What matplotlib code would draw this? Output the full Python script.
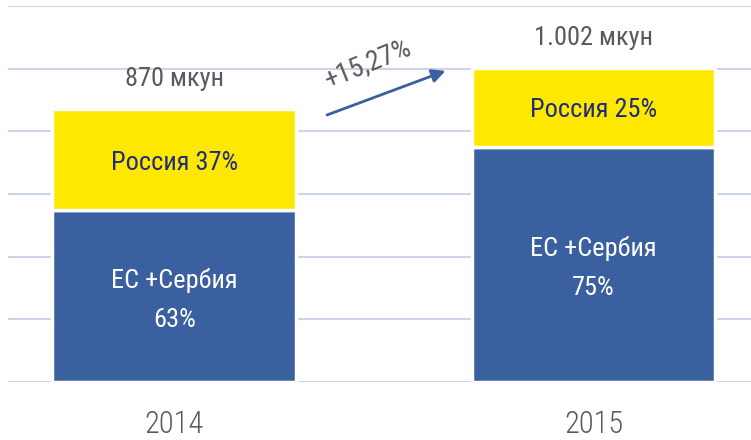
import matplotlib.pyplot as plt

years = ['2014', '2015']
totals = [870, 1002]
eu_share = [63, 75]
ru_share = [37, 25]
total_labels = ['870 мкун', '1.002 мкун']
growth_label = '+15,27%'

eu_vals = [t * s / 100 for t, s in zip(totals, eu_share)]
ru_vals = [t * s / 100 for t, s in zip(totals, ru_share)]

plt.rcParams['font.family'] = ['Roboto Condensed', 'DejaVu Sans']

blue = '#3A60A0'
yellow = '#FFE800'
navy = '#1F2C7C'
gray = '#5A5A5A'
grid = '#CCD5E8'

fig = plt.figure(figsize=(7.51, 4.40), dpi=100)
ax = fig.add_axes([8 / 751, 58 / 440, 743 / 751, 376 / 440])

x = list(range(len(years)))
w = 0.58
ax.bar(x, eu_vals, width=w, color=blue, edgecolor='white', linewidth=2.5, zorder=3)
ax.bar(x, ru_vals, width=w, bottom=eu_vals, color=yellow, edgecolor='white', linewidth=2.5, zorder=3)

for i in x:
    ax.text(i, ru_vals[i] / 2 + eu_vals[i] - 10, f'Россия {ru_share[i]}%', ha='center', va='center',
            color=navy, fontsize=19, zorder=4)
    ax.text(i, eu_vals[i] / 2 - 12, f'ЕС +Сербия\n{eu_share[i]}%', ha='center', va='center',
            color='white', fontsize=19, linespacing=1.8, zorder=4)
    ax.text(i, totals[i] + 96, total_labels[i], ha='center', va='center',
            color=gray, fontsize=19, zorder=4)

ax.annotate('', xy=(0.653, 996), xytext=(0.358, 849),
            arrowprops=dict(arrowstyle='-|>', color=blue, lw=2, mutation_scale=20), zorder=4)
ax.text(0.462, 1018, growth_label, ha='center', va='center', rotation=22,
        color=gray, fontsize=20, zorder=4)

ax.set_ylim(0, 1200)
ax.set_xlim(-0.396, 1.375)
ax.set_yticks(range(0, 1201, 200))
ax.yaxis.grid(True, color=grid, linewidth=1.5, zorder=0)
ax.tick_params(axis='y', length=0, labelleft=False)
ax.tick_params(axis='x', length=0, pad=20, labelsize=22, labelcolor=gray)
ax.set_xticks(x)
ax.set_xticklabels(years, fontweight='light')
for s in ax.spines.values():
    s.set_visible(False)

fig.savefig('out.png', dpi=100)
